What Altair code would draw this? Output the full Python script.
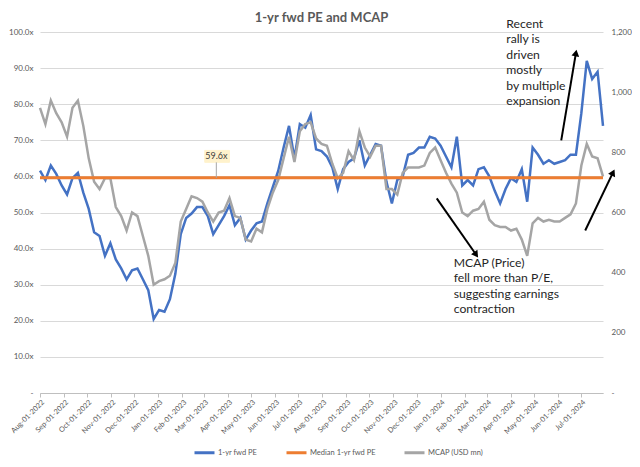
import altair as alt
import pandas as pd

# ---------------- data ----------------
START_DATE = "2022-08-01"
N_POINTS = 105  # weekly observations
PE = [61.6, 59, 63, 60.7, 57.5, 55, 59.5, 61, 55.5, 51,
      44.5, 43.5, 38, 41.5, 37, 34.5, 31.5, 34, 34.5, 31.5,
      28.5, 20.5, 23, 22.5, 26, 33, 44, 48.5, 49.7, 51.5,
      51.5, 49, 44, 46.5, 49, 52, 46.5, 48.5, 42.5, 45,
      47, 47.5, 52.5, 57, 61.5, 68, 74, 65, 74.5, 73.5,
      77, 67.5, 67, 65.5, 62.5, 56.5, 62, 64, 65, 70,
      63, 66, 69, 68.5, 58.5, 52.5, 59, 60, 66, 66.5,
      68, 68, 71, 70.5, 68.5, 65.5, 62.5, 71, 57.5, 59,
      57.5, 62, 62.5, 60, 56, 52.5, 56.5, 59.5, 58.5, 62,
      53, 68, 66, 63.5, 64.5, 63.5, 64, 64.5, 66, 66,
      77.5, 92, 87, 89, 74]
MCAP = [948, 894, 972, 930, 900, 852, 948, 972, 888, 780,
        702, 678, 714, 714, 618, 588, 540, 600, 588, 522,
        456, 360, 372, 378, 390, 432, 570, 612, 654, 648,
        636, 600, 570, 600, 606, 648, 588, 582, 510, 504,
        546, 534, 612, 666, 708, 780, 852, 768, 870, 894,
        900, 846, 828, 822, 762, 714, 732, 804, 774, 870,
        816, 786, 822, 822, 678, 678, 660, 732, 750, 750,
        750, 756, 798, 816, 774, 732, 696, 666, 600, 588,
        606, 612, 636, 576, 558, 552, 552, 540, 546, 510,
        456, 564, 582, 570, 576, 570, 570, 582, 594, 630,
        756, 828, 786, 780, 720]
MEDIAN_PE = 59.6

SERIES = ["1-yr fwd PE", "Median 1-yr fwd PE", "MCAP (USD mn)"]
COLORS = ["#4472C4", "#ED7D31", "#A5A5A5"]

LEFT_TICKS = [0, 10, 20, 30, 40, 50, 60, 70, 80, 90, 100]
RIGHT_TICKS = [0, 200, 400, 600, 800, 1000, 1200]
X_DOMAIN = ["2022-08-01", "2024-07-29"]
MONTH_TICKS = pd.date_range("2022-08-01", "2024-07-01", freq="MS")

TITLE = ["1-yr fwd PE and MCAP"]

# annotations (in data coordinates)
ARROW_START_DATES = ["2024-06-05", "2023-12-27", "2024-07-06"]
ARROW_START_PE = [70, 53.9, 45]
ARROW_END_DATES = ["2024-06-24", "2024-02-16", "2024-08-11"]
ARROW_END_PE = [94.2, 38.3, 61.1]
ARROW_ANGLES = [10, 145, 26]

NOTE_TEXTS = ["Recent\nrally is\ndriven\nmostly\nby multiple\nexpansion",
              "MCAP (Price)\nfell more than P/E,\nsuggesting earnings\ncontraction"]
NOTE_DATES = ["2024-03-26", "2024-01-18"]
NOTE_PE = [103.9, 37.8]

CALLOUT_TEXT = ["59.6x"]
CALLOUT_BOX_DATES = ["2023-03-02", "2023-04-03"]
CALLOUT_BOX_PE = [67.2, 63.9]
CALLOUT_DATE = ["2023-03-17"]
CALLOUT_TEXT_PE = [65.55]

FONT = "Lato"
GREY_TXT = "#595959"
W, H = 563, 361


def ms(d):
    return int(pd.Timestamp(d, tz="UTC").value // 10**6)


dates = pd.date_range(START_DATE, periods=N_POINTS, freq="7D").strftime("%Y-%m-%d")
pe_df = pd.DataFrame({"date": dates, "v": PE, "series": SERIES[0]})
med_df = pd.DataFrame({"date": dates, "v": [MEDIAN_PE] * N_POINTS, "series": SERIES[1]})
mcap_df = pd.DataFrame({"date": dates, "m": MCAP, "series": SERIES[2]})

arrow_df = pd.DataFrame({"d1": ARROW_START_DATES, "v1": ARROW_START_PE,
                         "d2": ARROW_END_DATES, "v2": ARROW_END_PE,
                         "angle": ARROW_ANGLES})
note_df = pd.DataFrame({"d": NOTE_DATES, "v": NOTE_PE, "t": NOTE_TEXTS})
box_df = pd.DataFrame({"d1": [CALLOUT_BOX_DATES[0]], "d2": [CALLOUT_BOX_DATES[1]],
                       "v1": [CALLOUT_BOX_PE[0]], "v2": [CALLOUT_BOX_PE[1]],
                       "dc": CALLOUT_DATE, "vt": CALLOUT_TEXT_PE, "t": CALLOUT_TEXT,
                       "vl": [CALLOUT_BOX_PE[1]], "vm": [MEDIAN_PE]})
title_df = pd.DataFrame({"t": TITLE})

# ---------------- scales / axes ----------------
x_scale = alt.Scale(type="utc", domain=[ms(X_DOMAIN[0]), ms(X_DOMAIN[1])])
x_axis = alt.Axis(values=[ms(d) for d in MONTH_TICKS],
                  labelExpr="utcFormat(datum.value, '%b-%d-%Y')",
                  labelAngle=-45, labelFontSize=7.3, labelColor=GREY_TXT, labelFont=FONT,
                  grid=False, domainColor="#BFBFBF", tickColor="#BFBFBF", tickSize=4,
                  labelPadding=1, title=None, labelOverlap=False)
yl_scale = alt.Scale(domain=[0, 100], nice=False, zero=True)
yl_axis = alt.Axis(values=LEFT_TICKS,
                   labelExpr="datum.value == 0 ? '-' : format(datum.value, '.1f') + 'x'",
                   grid=True, gridColor="#D9D9D9", domain=False, ticks=False,
                   labelFontSize=8, labelColor=GREY_TXT, labelFont=FONT,
                   labelPadding=7, title=None)
yr_scale = alt.Scale(domain=[0, 1200], nice=False, zero=True)
yr_axis = alt.Axis(values=RIGHT_TICKS, orient="right",
                   labelExpr="datum.value == 0 ? '-' : format(datum.value, ',')",
                   grid=False, domain=False, ticks=False,
                   labelFontSize=8, labelColor=GREY_TXT, labelFont=FONT,
                   labelPadding=8, title=None)

color = alt.Color("series:N",
                  scale=alt.Scale(domain=SERIES, range=COLORS),
                  legend=alt.Legend(orient="none", legendX=153, legendY=409,
                                    direction="horizontal", title=None,
                                    symbolType="stroke", symbolStrokeWidth=3,
                                    symbolSize=400, labelFontSize=7.5,
                                    labelColor=GREY_TXT, labelFont=FONT,
                                    columnPadding=22, labelOffset=2))


def X(field):
    return alt.X(field, scale=x_scale, axis=x_axis)


pe_line = alt.Chart(pe_df).mark_line(strokeWidth=2.5).encode(
    x=X("date:T"), y=alt.Y("v:Q", scale=yl_scale, axis=yl_axis), color=color)

mcap_line = alt.Chart(mcap_df).mark_line(strokeWidth=2.5).encode(
    x=X("date:T"), y=alt.Y("m:Q", scale=yr_scale, axis=yr_axis), color=color)

yl_none = dict(scale=yl_scale, axis=None)

med_line = alt.Chart(med_df).mark_line(strokeWidth=3).encode(
    x=X("date:T"), y=alt.Y("v:Q", **yl_none), color=color)

box = alt.Chart(box_df).mark_rect(fill="#FFF2CC", stroke="#FFF2CC").encode(
    x=X("d1:T"), x2="d2:T",
    y=alt.Y("v1:Q", **yl_none), y2="v2:Q")
leader = alt.Chart(box_df).mark_rule(color="#A6A6A6", strokeWidth=1).encode(
    x=X("dc:T"), y=alt.Y("vl:Q", **yl_none), y2="vm:Q")
box_text = alt.Chart(box_df).mark_text(fontSize=9, font=FONT, color="#404040",
                                       align="center", baseline="middle").encode(
    x=X("dc:T"), y=alt.Y("vt:Q", **yl_none), text="t:N")

arrows = alt.Chart(arrow_df).mark_rule(color="black", strokeWidth=2).encode(
    x=X("d1:T"), x2="d2:T",
    y=alt.Y("v1:Q", **yl_none), y2="v2:Q")
heads = alt.Chart(arrow_df).mark_point(shape="triangle-up", filled=True, size=60,
                                       color="black", opacity=1).encode(
    x=X("d2:T"), y=alt.Y("v2:Q", **yl_none),
    angle=alt.Angle("angle:Q", scale=None))
notes = alt.Chart(note_df).mark_text(align="left", baseline="top", lineBreak="\n",
                                     lineHeight=15.5, fontSize=12.2, font=FONT,
                                     color="#262626").encode(
    x=X("d:T"), y=alt.Y("v:Q", **yl_none), text="t:N")

title_mark = alt.Chart(title_df).mark_text(fontSize=13, font=FONT, fontWeight="bold",
                                           color=GREY_TXT, align="center",
                                           baseline="middle").encode(
    x=alt.value(W / 2), y=alt.value(-14), text="t:N")

top_group = alt.layer(med_line, box, leader, box_text, arrows, heads, notes)

chart = alt.layer(pe_line, mcap_line, top_group, title_mark).resolve_scale(
    y="independent"
).properties(
    width=W, height=H,
    autosize=alt.AutoSizeParams(type="none"),
    padding={"left": 32, "top": 24, "right": 29, "bottom": 66},
    background="white",
).configure_view(stroke=None)

chart.save("out.html", embed_options={"renderer": "svg", "actions": False})
